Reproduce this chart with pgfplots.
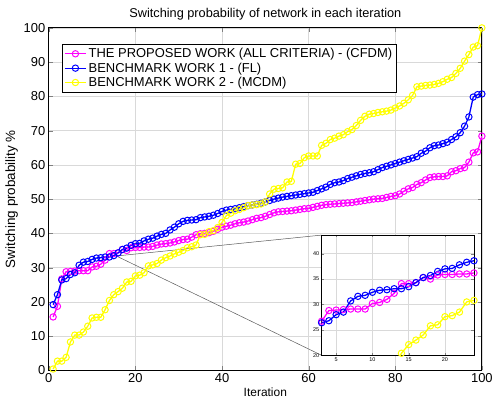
\documentclass[border=0pt]{standalone}
\usepackage{fontspec}
\setmainfont{Liberation Sans}
\usepackage{pgfplots}
\usepackage{pgfplotstable}
\pgfplotsset{compat=1.18}

% iteration, proposed (CFDM), benchmark 1 (FL), benchmark 2 (MCDM)
\pgfplotstableread{
it cfdm fl mcdm
1 15.6 19.2 0.4
2 18.7 22.1 2.7
3 26.7 26.4 2.7
4 28.8 26.8 3.8
5 28.9 28.0 8.3
6 29.0 28.5 10.3
7 29.1 30.7 10.3
8 29.1 31.6 11.2
9 29.1 31.8 12.9
10 30.2 32.4 15.3
11 30.4 32.8 15.5
12 31.0 32.9 15.5
13 32.2 33.1 17.7
14 34.1 33.1 20.4
15 34.1 33.5 22.1
16 34.3 34.3 23.0
17 35.3 35.3 24.0
18 35.0 35.7 25.8
19 35.8 36.5 26.0
20 35.9 37.0 27.6
21 35.9 37.1 27.8
22 36.0 37.8 28.5
23 36.0 38.3 30.5
24 36.2 38.6 30.8
25 36.6 39.2 31.2
26 36.9 39.7 32.2
27 37.0 40.0 32.9
28 37.2 41.0 33.4
29 37.5 41.8 34.0
30 37.9 42.8 34.5
31 38.2 43.5 35.0
32 38.3 43.8 35.8
33 38.9 43.9 36.1
34 39.6 44.0 36.6
35 39.9 44.6 39.6
36 40.0 44.8 39.7
37 40.2 45.0 40.5
38 40.6 45.3 40.8
39 41.2 45.8 41.7
40 41.8 46.4 43.2
41 42.1 46.8 45.2
42 42.4 47.0 45.9
43 42.8 47.2 46.6
44 43.1 47.5 47.0
45 43.3 47.8 47.5
46 43.6 48.1 48.1
47 44.0 48.3 48.3
48 44.4 48.5 48.4
49 44.6 48.8 48.6
50 45.0 49.2 49.2
51 45.5 49.6 51.5
52 46.0 50.0 52.9
53 46.3 50.3 53.1
54 46.4 50.6 53.3
55 46.5 50.8 55.0
56 46.6 51.0 55.2
57 46.8 51.2 60.2
58 47.0 51.4 60.4
59 47.2 51.6 62.1
60 47.3 51.8 62.6
61 47.6 52.0 62.6
62 47.9 52.5 62.6
63 48.2 53.0 65.7
64 48.4 53.5 66.3
65 48.5 54.3 67.4
66 48.6 54.8 67.8
67 48.7 55.0 68.4
68 48.8 55.4 68.8
69 48.9 56.0 69.7
70 49.0 56.4 70.3
71 49.2 56.8 71.5
72 49.4 57.2 73.0
73 49.6 57.5 74.2
74 49.8 57.7 74.8
75 50.0 58.0 75.0
76 50.1 58.6 75.3
77 50.2 59.2 75.5
78 50.5 59.6 75.7
79 50.8 60.0 76.0
80 51.0 60.4 76.6
81 51.5 60.8 77.2
82 52.3 61.2 78.0
83 53.0 61.6 79.0
84 53.4 62.0 80.3
85 54.3 62.4 82.8
86 54.8 63.4 83.0
87 55.6 64.0 83.2
88 56.3 65.0 83.3
89 56.5 65.6 83.5
90 56.6 65.8 83.8
91 56.6 66.2 84.3
92 56.8 66.6 85.0
93 58.0 67.4 85.5
94 58.3 68.2 86.7
95 58.9 69.4 88.2
96 59.2 71.3 90.3
97 60.8 74.0 92.2
98 63.5 79.8 94.4
99 63.8 80.5 94.8
100 68.4 80.7 100.0
}\datatable

\definecolor{mmag}{rgb}{1,0,1}
\definecolor{mblue}{rgb}{0,0,1}
\definecolor{myel}{rgb}{1,1,0}

\pgfplotsset{
  mstyle/.style={line width=1.3pt, mark=o, mark size=3.2pt, mark options={line width=1pt, solid}},
}

\begin{document}
\begin{tikzpicture}
\begin{axis}[
  name=main,
  scale only axis,
  width=435pt, height=344pt,
  xmin=0, xmax=100, ymin=0, ymax=100,
  xtick={0,20,...,100}, ytick={0,10,...,100},
  tick align=inside,
  major tick length=4pt,
  grid=major,
  major grid style={gray!30, line width=0.6pt},
  axis line style={line width=0.8pt},
  /pgf/number format/assume math mode=true,
  ticklabel style={font=\fontsize{13}{13}\selectfont},
  xlabel={Iteration}, ylabel={Switching probability \%},
  xlabel style={font=\fontsize{12}{12}\selectfont, yshift=2pt},
  ylabel style={font=\fontsize{13.5}{13.5}\selectfont, yshift=-1pt},
  title={Switching probability of network in each iteration},
  title style={font=\fontsize{12.8}{12.8}\selectfont, yshift=-2pt},
  legend style={at={(0.03,0.953)}, anchor=north west, draw=black, fill=white,
    font=\fontsize{13}{14}\selectfont, row sep=-0.5pt, inner sep=2pt, line width=0.8pt},
  legend cell align=left,
  legend image code/.code={
    \draw[#1] (0cm,0cm) -- (0.75cm,0cm);
    \draw[#1, mark repeat=1, mark phase=1] plot coordinates {(0.375cm,0cm)};
  },
]
\addplot[mstyle, mmag] table[x=it, y=cfdm] {\datatable};
\addlegendentry{THE PROPOSED WORK (ALL CRITERIA) - (CFDM)}
\addplot[mstyle, mblue] table[x=it, y=fl] {\datatable};
\addlegendentry{BENCHMARK WORK 1 - (FL)}
\addplot[mstyle, myel] table[x=it, y=mcdm] {\datatable};
\addlegendentry{BENCHMARK WORK 2 - (MCDM)}

\draw[gray!70!black, line width=0.5pt] (axis cs:15.6,33.4) -- (axis cs:63,39.5);
\draw[gray!70!black, line width=0.5pt] (axis cs:15.6,33.4) -- (axis cs:63,4.4);
\coordinate (insw) at (axis cs:63,4.4);
\end{axis}

\begin{axis}[
  at={(insw)}, anchor=south west,
  scale only axis,
  width=153pt, height=121pt,
  xmin=3, xmax=24, ymin=20, ymax=43.7,
  xtick={5,10,15,20}, ytick={20,25,...,40},
  tick align=inside,
  major tick length=2.5pt,
  grid=major,
  major grid style={gray!30, line width=0.4pt},
  axis line style={line width=0.5pt},
  axis background/.style={fill=white},
  /pgf/number format/assume math mode=true,
  ticklabel style={font=\fontsize{5.5}{6}\selectfont},
  xticklabel style={yshift=1pt},
  yticklabel style={xshift=1pt},
]
\addplot[mstyle, mmag, restrict x to domain=1:26] table[x=it, y=cfdm] {\datatable};
\addplot[mstyle, mblue, restrict x to domain=1:26] table[x=it, y=fl] {\datatable};
\addplot[mstyle, myel, restrict x to domain=1:26] table[x=it, y=mcdm] {\datatable};
\end{axis}

\path (main.south west) ++(-49pt,-33pt) rectangle ++(496pt,405pt);
\end{tikzpicture}
\end{document}
